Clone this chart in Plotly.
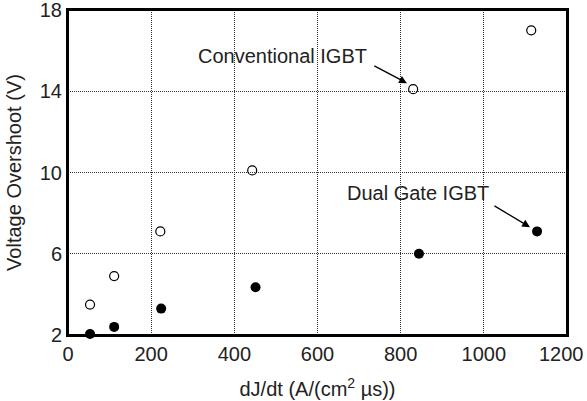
import plotly.graph_objects as go

conv_x = [53, 111, 222, 443, 830, 1114]
conv_y = [3.5, 4.9, 7.1, 10.1, 14.1, 17.0]
dual_x = [53, 111, 224, 451, 844, 1128]
dual_y = [2.05, 2.4, 3.3, 4.35, 6.0, 7.1]
x_ticks = [0, 200, 400, 600, 800, 1000, 1200]
x_labels = ["0", "200", "400", "600", "800", "1000", ""]
last_x_label = "1200"
y_ticks = [2, 6, 10, 14, 18]

fig = go.Figure()
fig.add_trace(go.Scatter(x=conv_x, y=conv_y, mode="markers", cliponaxis=False,
                         marker=dict(symbol="circle-open", size=9, color="black", line=dict(width=1.2)),
                         showlegend=False))
fig.add_trace(go.Scatter(x=dual_x, y=dual_y, mode="markers", cliponaxis=False,
                         marker=dict(symbol="circle", size=10, color="black"),
                         showlegend=False))

font = dict(family="Liberation Sans, Arial, sans-serif", size=20, color="#222")

fig.add_annotation(x=517, y=15.73, text="Conventional IGBT", showarrow=False, font=font)
fig.add_annotation(x=815, y=14.4, ax=733, ay=15.29, axref="x", ayref="y", text=" ",
                   showarrow=True, arrowhead=2, arrowsize=1.2, arrowwidth=1.3, arrowcolor="black",
                   font=dict(size=1))
fig.add_annotation(x=842, y=8.98, text="Dual Gate IGBT", showarrow=False, font=font)
fig.add_annotation(x=1111, y=7.31, ax=1022, ay=8.4, axref="x", ayref="y", text=" ",
                   showarrow=True, arrowhead=2, arrowsize=1.2, arrowwidth=1.3, arrowcolor="black",
                   font=dict(size=1))
# last x tick label, nudged left so it stays inside the page like the reference
fig.add_annotation(x=x_ticks[-1], xref="x", y=0, yref="paper", text=last_x_label,
                   showarrow=False, xanchor="center", yanchor="top", xshift=-6, yshift=-6,
                   font=font)

fig.add_shape(type="rect", xref="paper", yref="paper", x0=0, y0=0, x1=1, y1=1,
              line=dict(color="black", width=2), layer="above")

axis_common = dict(showline=True, linecolor="black", linewidth=2, mirror=True,
                   showgrid=True, gridcolor="#333", gridwidth=1, griddash="1px,1px",
                   ticks="", zeroline=False, tickfont=font, automargin=False,
                   ticklabeloverflow="allow")

fig.update_xaxes(range=[0, 1200], tickvals=x_ticks, ticktext=x_labels,
                 title=dict(text="dJ/dt (A/(cm<sup>2</sup> µs))", font=font, standoff=18),
                 **axis_common)
fig.update_yaxes(range=[2, 18], tickvals=y_ticks,
                 title=dict(text="Voltage Overshoot (V)", font=font, standoff=13),
                 **axis_common)

fig.update_layout(width=587, height=401, margin=dict(l=68, r=20, t=10, b=66),
                  plot_bgcolor="white", paper_bgcolor="white", font=font)

fig.write_html("out.html")
